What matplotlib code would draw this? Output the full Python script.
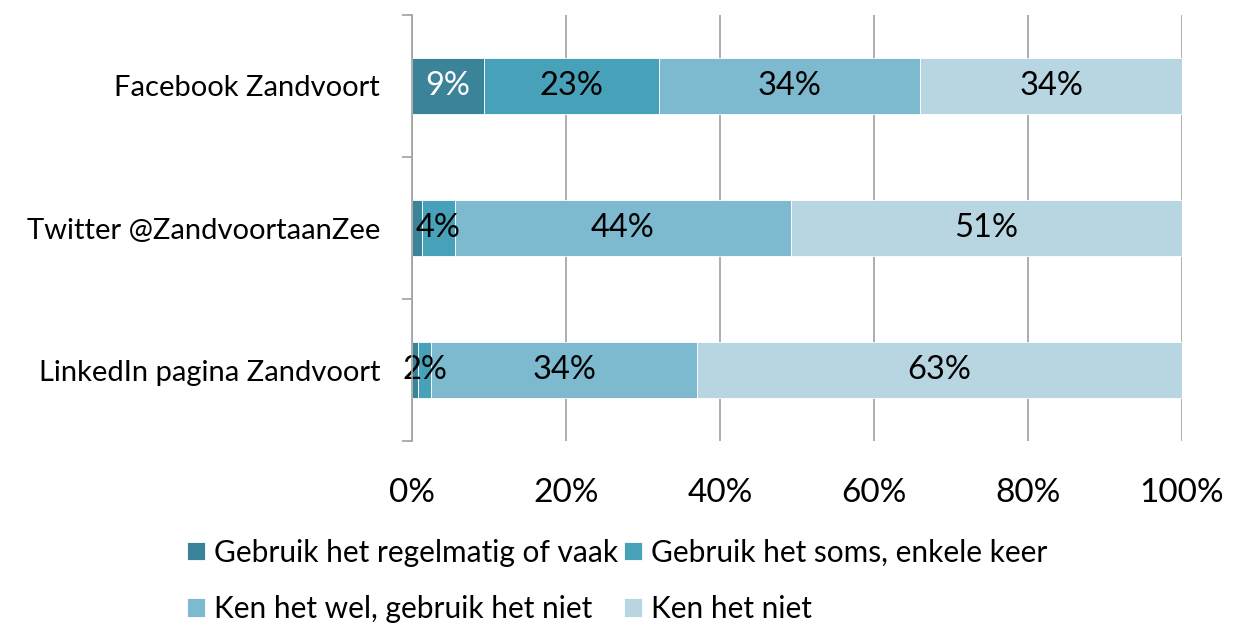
import matplotlib.pyplot as plt
import numpy as np

categories = ["Facebook Zandvoort", "Twitter @ZandvoortaanZee", "LinkedIn pagina Zandvoort"]
series = [
    "Gebruik het regelmatig of vaak",
    "Gebruik het soms, enkele keer",
    "Ken het wel, gebruik het niet",
    "Ken het niet",
]
regelmatig = [9.3, 1.3, 0.8]
soms = [22.8, 4.3, 1.7]
ken_wel = [33.9, 43.6, 34.5]
ken_niet = [34.0, 50.8, 63.0]
labels = [
    ["9%", "", ""],
    ["23%", "4%", "2%"],
    ["34%", "44%", "34%"],
    ["34%", "51%", "63%"],
]
colors = ["#3B8398", "#47A1B9", "#7DBAD0", "#B7D6E1"]
label_colors = ["white", "black", "black", "black"]

plt.rcParams["font.family"] = ["Lato", "DejaVu Sans"]

fig = plt.figure(figsize=(12.47, 6.26), dpi=100)
ax = fig.add_axes([412 / 1247, 1 - 441 / 626, 770 / 1247, 426 / 626])

y = np.arange(len(categories))
left = np.zeros(len(categories))
for name, vals, col, labs, lc in zip(series, [regelmatig, soms, ken_wel, ken_niet], colors, labels, label_colors):
    vals = np.array(vals)
    ax.barh(y, vals, left=left, height=0.4, color=col, edgecolor="white", linewidth=0.6, label=name, zorder=3)
    for yi, (l, v, t) in enumerate(zip(left, vals, labs)):
        if t:
            ax.text(l + v / 2, yi, t, ha="center", va="center", fontsize=23.5, color=lc, zorder=4)
    left += vals

ax.set_xlim(0, 100)
ax.set_ylim(2.5, -0.5)
ax.set_xticks(np.arange(0, 101, 20))
ax.set_xticklabels([f"{v}%" for v in range(0, 101, 20)], fontsize=24)
ax.set_yticks(y)
ax.set_yticklabels(categories, fontsize=21)
ax.set_yticks([-0.5, 0.5, 1.5, 2.5], minor=True)
ax.tick_params(axis="y", which="major", length=0, pad=23)
ax.tick_params(axis="y", which="minor", length=7, color="#A0A0A0", width=1.2)
ax.tick_params(axis="x", length=0, pad=27)
ax.grid(axis="x", color="#A0A0A0", linewidth=1.2, zorder=0)
for s in ["top", "right", "bottom"]:
    ax.spines[s].set_visible(False)
ax.spines["left"].set_color("#A0A0A0")
ax.spines["left"].set_linewidth(1.2)
ax.spines["left"].set_zorder(5)

handles, names = ax.get_legend_handles_labels()
order = [0, 2, 1, 3]
fig.legend(
    [handles[i] for i in order],
    [names[i] for i in order],
    loc="lower left",
    bbox_to_anchor=(160 / 1247, -0.038),
    ncol=2,
    frameon=False,
    fontsize=21.5,
    handlelength=0.6,
    handleheight=0.6,
    handletextpad=0.3,
    columnspacing=0.2,
    labelspacing=0.95,
)

fig.savefig("out.png", dpi=100)
